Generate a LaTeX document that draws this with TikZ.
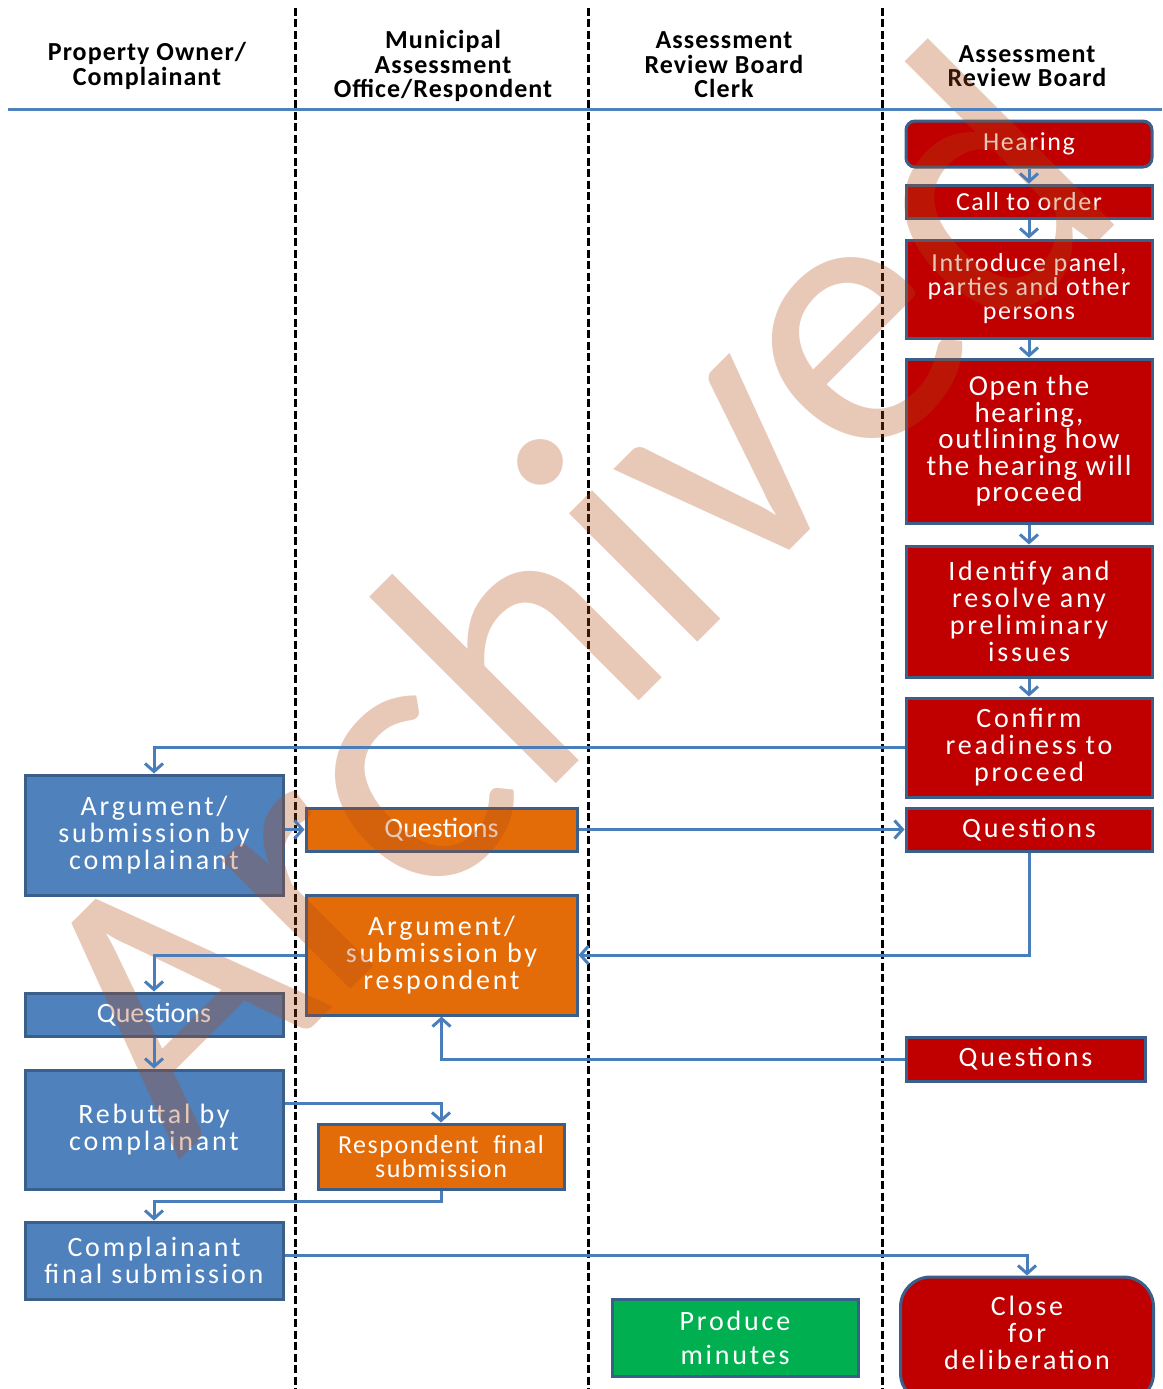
\documentclass[tikz,border=0pt]{standalone}
\usepackage{fontspec}
\setmainfont{Carlito}
\newfontfamily\wideface[LetterSpace=10]{Carlito}
\newfontfamily\midface[LetterSpace=6]{Carlito}
\newfontfamily\headface[LetterSpace=4]{Carlito}
\usetikzlibrary{arrows.meta}

\definecolor{boardred}{HTML}{C00000}
\definecolor{ownerblue}{HTML}{4F81BD}
\definecolor{officeorange}{HTML}{E36C09}
\definecolor{clerkgreen}{HTML}{00B050}
\definecolor{edgeblue}{HTML}{3A5F8B}
\definecolor{flowblue}{HTML}{4A7EBB}
\definecolor{stampbrown}{RGB}{178,72,18}

\tikzset{
  x=1pt, y=-1pt,
  stepbox/.style={draw=edgeblue, line width=3pt, text=white, align=center,
    inner sep=0pt, minimum width=#1},
  redbox/.style={stepbox=246pt, fill=boardred},
  bluebox/.style={stepbox=258pt, fill=ownerblue},
  orangebox/.style={stepbox=271pt, fill=officeorange},
  greenbox/.style={stepbox=246pt, fill=clerkgreen},
  wide/.style={font=\fontsize{28}{27}\selectfont\wideface},
  mid/.style={font=\fontsize{26}{24}\selectfont\midface},
  plain/.style={font=\fontsize{28}{27}\selectfont},
  header/.style={align=center, font=\fontsize{26}{24.5}\selectfont\headface\bfseries},
  conn/.style={draw=flowblue, line width=3pt, -{Straight Barb[length=8pt,width=18pt,line width=3pt]}},
  lane/.style={draw=black, line width=3pt, dash pattern=on 8pt off 3.5pt},
  stamp/.style={text=stampbrown, opacity=0.3, font=\fontsize{380}{380}\selectfont}
}

\begin{document}
\begin{tikzpicture}
\useasboundingbox (0,0) rectangle (1162,1389);

% swim-lane separators
\draw[lane] (295,8) coordinate (l1t) -- (295,1389) coordinate (l1b);
\draw[lane] (588,8) coordinate (l2t) -- (588,1389) coordinate (l2b);
\draw[lane] (882,8) coordinate (l3t) -- (882,1389) coordinate (l3b);

% column headings
\node[header] (h1) at (147,66) {Property Owner/\\Complainant};
\node[header] (h2) at (443,66) {Municipal\\Assessment\\Office/Respondent};
\node[header] (h3) at (724,65) {Assessment\\Review Board\\Clerk};
\node[header] (h4) at (1027,66) {Assessment\\Review Board};

% Assessment Review Board
\node[redbox, mid, minimum height=46pt, rounded corners=9pt] (hearing) at (1029,144) {Hearing};
\node[redbox, mid, minimum height=33pt] (call) at (1029,201.5) {Call to order};
\node[redbox, mid, minimum height=98pt] (intro) at (1029,289) {Introduce panel,\\parties and other\\persons};
\node[redbox, font=\fontsize{29}{26.5}\selectfont\midface, minimum height=164pt] (open) at (1029,441) {Open the\\hearing,\\outlining how\\the hearing will\\proceed};
\node[redbox, wide, minimum height=131pt] (ident) at (1029,611.5) {Identify and\\resolve any\\preliminary\\issues};
\node[redbox, wide, minimum height=99pt] (confirm) at (1029,747.5) {Confirm\\readiness to\\proceed};
\node[redbox, wide, minimum height=43pt] (qboard1) at (1029,829.5) {Questions};
\node[redbox, wide, minimum width=239pt, minimum height=44pt] (qboard2) at (1025.5,1059) {Questions};
\node[redbox, wide, minimum width=253pt, minimum height=126pt, rounded corners=30pt] (close) at (1027,1340) {};
\node[wide, text=white, align=center] (closetext) at (1027,1333) {Close\\for\\deliberation};

% Property Owner / Complainant
\node[bluebox, wide, minimum height=120pt] (argc) at (154,835) {Argument/\\submission by\\complainant};
\node[bluebox, plain, minimum height=43pt] (qowner) at (154,1014.5) {Questions};
\node[bluebox, wide, minimum height=119pt] (rebut) at (154,1129.5) {Rebuttal by\\complainant};
\node[bluebox, wide, minimum height=77pt] (cfinal) at (154,1260.5) {Complainant\\final submission};

% Municipal Assessment Office / Respondent
\node[orangebox, plain, minimum height=43pt] (qoffice) at (441.5,829.5) {Questions};
\node[orangebox, wide, minimum height=120pt] (argr) at (441.5,955) {Argument/\\submission by\\respondent};
\node[orangebox, mid, minimum width=246pt, minimum height=65pt] (rfinal) at (441,1156.5) {Respondent\ \ final\\submission};

% Assessment Review Board Clerk
\node[greenbox, font=\fontsize{28}{34}\selectfont\wideface, minimum height=77pt] (minutes) at (735,1337.5) {Produce\\minutes};

% status stamp across the sheet
\node[stamp, rotate=45, anchor=base west, inner sep=0pt] (stampword) at (178,1162) {Archived};

% heading rule
\draw[draw=ownerblue, line width=3pt] (8,109) coordinate (rulel) -- (1162,109) coordinate (ruler);

% flow of the hearing
\draw[conn] (hearing) -- (call);
\draw[conn] (call) -- (intro);
\draw[conn] (intro) -- (open);
\draw[conn] (open) -- (ident);
\draw[conn] (ident) -- (confirm);
\draw[conn] (confirm.west) -| (argc.north);
\draw[conn] (argc.east |- qoffice.west) -- (qoffice.west);
\draw[conn] (qoffice.east) -- (qboard1.west);
\draw[conn] (qboard1.south) |- (argr.east);
\draw[conn] (argr.west) -| (qowner.north);
\draw[conn] (qowner) -- (rebut);
\draw[conn] (qboard2.west) -| (argr.south);
\draw[conn] ([yshift=26.5pt]rebut.east) -| (rfinal.north);
\draw[conn] (rfinal.south) -- ++(0,11) -| (cfinal.north);
\draw[conn] ([yshift=5.5pt]cfinal.east) -| (close.north);
\end{tikzpicture}
\end{document}
